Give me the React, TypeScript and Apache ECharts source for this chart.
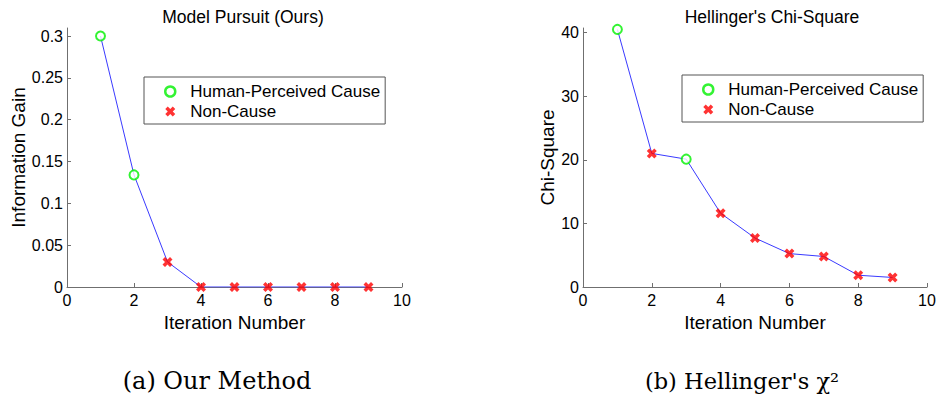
import React, { useEffect, useRef } from "react";
import * as echarts from "echarts";

const iterations = [1, 2, 3, 4, 5, 6, 7, 8, 9];
const infoGain = [0.3, 0.134, 0.03, 0, 0, 0, 0, 0, 0];
const chiSquare = [40.5, 21, 20.1, 11.6, 7.7, 5.25, 4.8, 1.85, 1.5];
const causeIterA = [1, 2];
const causeIterB = [1, 3];
const xTicks = [0, 2, 4, 6, 8, 10];
const yTicksA = [0, 0.05, 0.1, 0.15, 0.2, 0.25, 0.3];
const yTicksB = [0, 10, 20, 30, 40];
const titles = ["Model Pursuit (Ours)", "Hellinger's Chi-Square"];
const yNames = ["Information Gain", "Chi-Square"];
const xName = "Iteration Number";
const captions = ["(a) Our Method", "(b) Hellinger's χ²"];
const legendNames = ["Human-Perceived Cause", "Non-Cause"];

const CROSS =
  "path://M0,2.5L2.5,0L5,2.5L7.5,0L10,2.5L7.5,5L10,7.5L7.5,10L5,7.5L2.5,10L0,7.5L2.5,5Z";
const GREEN = "#00f000";
const RED = "#ff0000";
const BLUE = "#3a3aff";
const AXIS = "#6f6f6f";
const SANS = "Liberation Sans, Arial, sans-serif";

function pts(ys: number[]) {
  return iterations.map((x, i) => [x, ys[i]]);
}
function split(ys: number[], cause: number[]) {
  const c: number[][] = [];
  const n: number[][] = [];
  iterations.forEach((x, i) => {
    (cause.includes(x) ? c : n).push([x, ys[i]]);
  });
  return { c, n };
}

export default function App() {
  const ref = useRef<HTMLDivElement>(null);
  useEffect(() => {
    if (!ref.current) return;
    document.body.style.margin = "0";
    const chart = echarts.init(ref.current, undefined, { renderer: "svg" });
    const a = split(infoGain, causeIterA);
    const b = split(chiSquare, causeIterB);
    const xAxisBase = (gi: number) => ({
      type: "value",
      gridIndex: gi,
      min: 0,
      max: 10,
      interval: 2,
      name: xName,
      nameLocation: "middle",
      nameGap: 20,
      nameTextStyle: { fontSize: 19, fontFamily: SANS, color: "#000" },
      axisLine: { show: true, onZero: false, lineStyle: { color: AXIS, width: 1 } },
      axisTick: { show: true, inside: true, length: 4, customValues: xTicks, lineStyle: { color: AXIS } },
      axisLabel: { fontSize: 16, fontFamily: SANS, color: "#000", margin: 5, customValues: xTicks },
      splitLine: { show: false },
    });
    const yAxisBase = (gi: number, max: number, ticks: number[], name: string, gap: number) => ({
      type: "value",
      gridIndex: gi,
      min: 0,
      max,
      name,
      nameLocation: "middle",
      nameGap: gap,
      nameTextStyle: { fontSize: 19, fontFamily: SANS, color: "#000" },
      axisLine: { show: true, onZero: false, lineStyle: { color: AXIS, width: 1 } },
      axisTick: { show: true, inside: true, length: 4, customValues: ticks, lineStyle: { color: AXIS } },
      axisLabel: {
        fontSize: 16,
        fontFamily: SANS,
        color: "#000",
        margin: 4,
        customValues: ticks,
        formatter: (v: number) => String(v),
      },
      splitLine: { show: false },
    });
    const legendBase = (left: number, top: number) => ({
      orient: "vertical",
      left,
      top,
      itemWidth: 10,
      itemHeight: 10,
      itemGap: 3,
      padding: [6, 5, 4, 20],
      borderColor: "#555",
      borderWidth: 1,
      textStyle: { fontSize: 17, fontFamily: SANS, color: "#000", padding: [0, 0, 0, 10] },
      data: [
        {
          name: legendNames[0],
          icon: "circle",
          itemStyle: { color: "#fff", borderColor: GREEN, borderWidth: 2.5 },
        },
        { name: legendNames[1], icon: CROSS, itemStyle: { color: RED, borderWidth: 0 } },
      ],
      selectedMode: false,
    });
    const seriesFor = (gi: number, ys: number[], s: { c: number[][]; n: number[][] }) => [
      {
        type: "line",
        xAxisIndex: gi,
        yAxisIndex: gi,
        data: pts(ys),
        showSymbol: false,
        symbol: "none",
        lineStyle: { color: BLUE, width: 1 },
        z: 1,
      },
      {
        type: "scatter",
        name: legendNames[0],
        xAxisIndex: gi,
        yAxisIndex: gi,
        data: s.c,
        symbol: "emptyCircle",
        symbolSize: 9,
        itemStyle: { color: GREEN, borderColor: GREEN, borderWidth: 2.8 },
        z: 3,
      },
      {
        type: "scatter",
        name: legendNames[1],
        xAxisIndex: gi,
        yAxisIndex: gi,
        data: s.n,
        symbol: CROSS,
        symbolSize: 10,
        itemStyle: { color: RED },
        z: 3,
      },
    ];
    const captionStyle = (text: string, size: number) => ({
      text,
      fontSize: size,
      fontFamily: "DejaVu Serif, serif",
      fill: "#000",
      align: "center",
      verticalAlign: "middle",
    });
    chart.setOption({
      animation: false,
      backgroundColor: "#fff",
      title: [
        {
          text: titles[0],
          left: 238,
          top: 3,
          textAlign: "center",
          textStyle: { fontSize: 17.5, fontWeight: "normal", fontFamily: SANS, color: "#000" },
        },
        {
          text: titles[1],
          left: 767,
          top: 3,
          textAlign: "center",
          textStyle: { fontSize: 17.5, fontWeight: "normal", fontFamily: SANS, color: "#000" },
        },
      ],
      grid: [
        { left: 67, top: 28, width: 335, height: 259 },
        { left: 583, top: 28, width: 344, height: 259 },
      ],
      xAxis: [xAxisBase(0), xAxisBase(1)],
      yAxis: [
        yAxisBase(0, 0.3096, yTicksA, yNames[0], 39),
        yAxisBase(1, 40.72, yTicksB, yNames[1], 24),
      ],
      legend: [legendBase(144, 77), legendBase(682, 75)],
      series: [...seriesFor(0, infoGain, a), ...seriesFor(1, chiSquare, b)],
      graphic: [
        { type: "text", x: 217, y: 381, style: captionStyle(captions[0], 24) },
        { type: "text", x: 742, y: 381, style: captionStyle(captions[1], 22.5) },
      ],
    });
    return () => chart.dispose();
  }, []);
  return <div ref={ref} style={{ width: 939, height: 400 }} />;
}
